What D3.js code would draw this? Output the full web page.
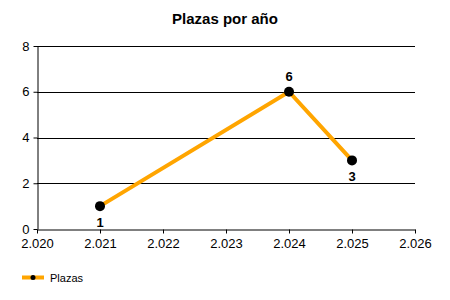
<!DOCTYPE html>
<html>
<head>
<meta charset="utf-8">
<script src="https://cdn.jsdelivr.net/npm/d3@7"></script>
<style>
  body { margin: 0; background: #fff; }
  svg { display: block; font-family: "Liberation Sans", Arial, sans-serif; }
</style>
</head>
<body>
<div id="chart"></div>
<script>
// data
var years = [2021, 2024, 2025];
var plazas = [1, 6, 3];
var labelPos = ["below", "above", "below"];
var xTicks = [2020, 2021, 2022, 2023, 2024, 2025, 2026];
var yTicks = [0, 2, 4, 6, 8];
var seriesName = "Plazas";
var title = "Plazas por año";

var width = 450, height = 300;
var margin = {left: 37, right: 35, top: 46, bottom: 71};

var svg = d3.select("#chart").append("svg")
    .attr("width", width)
    .attr("height", height);

var x = d3.scaleLinear().domain([2020, 2026]).range([margin.left, width - margin.right]);
var y = d3.scaleLinear().domain([0, 8]).range([height - margin.bottom, margin.top]);

// format like 2.021
function fmtYear(d) {
    var s = String(d);
    return s.slice(0, 1) + "." + s.slice(1);
}

// title
svg.append("text")
    .attr("x", 225)
    .attr("y", 24)
    .attr("text-anchor", "middle")
    .attr("font-size", 15)
    .attr("font-weight", "bold")
    .text(title);

// grid lines
svg.append("g").selectAll("line")
    .data(yTicks.filter(function(d) { return d > 0; }))
    .enter().append("line")
    .attr("x1", x(2020))
    .attr("x2", x(2026))
    .attr("y1", function(d) { return Math.round(y(d)) + 0.5; })
    .attr("y2", function(d) { return Math.round(y(d)) + 0.5; })
    .attr("stroke", "#000");

// y axis
var yAxis = svg.append("g")
    .attr("transform", "translate(" + (x(2020) + 0.5) + ",0)")
    .call(d3.axisLeft(y).tickValues(yTicks).tickSize(4).tickPadding(4).tickSizeOuter(0));
yAxis.select(".domain").attr("stroke", "#000");
yAxis.selectAll("line").attr("stroke", "#000");
yAxis.selectAll("text").attr("font-size", 13).attr("font-family", "Liberation Sans, Arial, sans-serif").attr("fill", "#000");

// x axis
var xAxis = svg.append("g")
    .attr("transform", "translate(0," + (Math.round(y(0)) + 0.5) + ")")
    .call(d3.axisBottom(x).tickValues(xTicks).tickFormat(fmtYear).tickSize(4).tickPadding(5).tickSizeOuter(0));
xAxis.select(".domain").attr("stroke", "#000");
xAxis.selectAll("line").attr("stroke", "#000");
xAxis.selectAll("text").attr("font-size", 13).attr("font-family", "Liberation Sans, Arial, sans-serif").attr("fill", "#000");

// series
var data = years.map(function(d, i) { return {year: d, value: plazas[i], pos: labelPos[i]}; });

var line = d3.line()
    .x(function(d) { return x(d.year); })
    .y(function(d) { return y(d.value); });

svg.append("path")
    .datum(data)
    .attr("d", line)
    .attr("fill", "none")
    .attr("stroke", "#FFA500")
    .attr("stroke-width", 4);

svg.selectAll(".pt")
    .data(data)
    .enter().append("circle")
    .attr("class", "pt")
    .attr("cx", function(d) { return x(d.year); })
    .attr("cy", function(d) { return y(d.value); })
    .attr("r", 5)
    .attr("fill", "#000");

svg.selectAll(".lbl")
    .data(data)
    .enter().append("text")
    .attr("class", "lbl")
    .attr("x", function(d) { return x(d.year); })
    .attr("y", function(d) { return d.pos === "above" ? y(d.value) - 11 : y(d.value) + 21; })
    .attr("text-anchor", "middle")
    .attr("font-size", 13)
    .attr("font-weight", "bold")
    .text(function(d) { return d.value; });

// legend
var lg = svg.append("g").attr("transform", "translate(22,277.5)");
lg.append("line")
    .attr("x1", 0).attr("x2", 22)
    .attr("stroke", "#FFA500")
    .attr("stroke-width", 4);
lg.append("circle").attr("cx", 11).attr("r", 2.5).attr("fill", "#000");
lg.append("text")
    .attr("x", 28)
    .attr("y", 4.5)
    .attr("font-size", 11)
    .text(seriesName);
</script>
</body>
</html>
